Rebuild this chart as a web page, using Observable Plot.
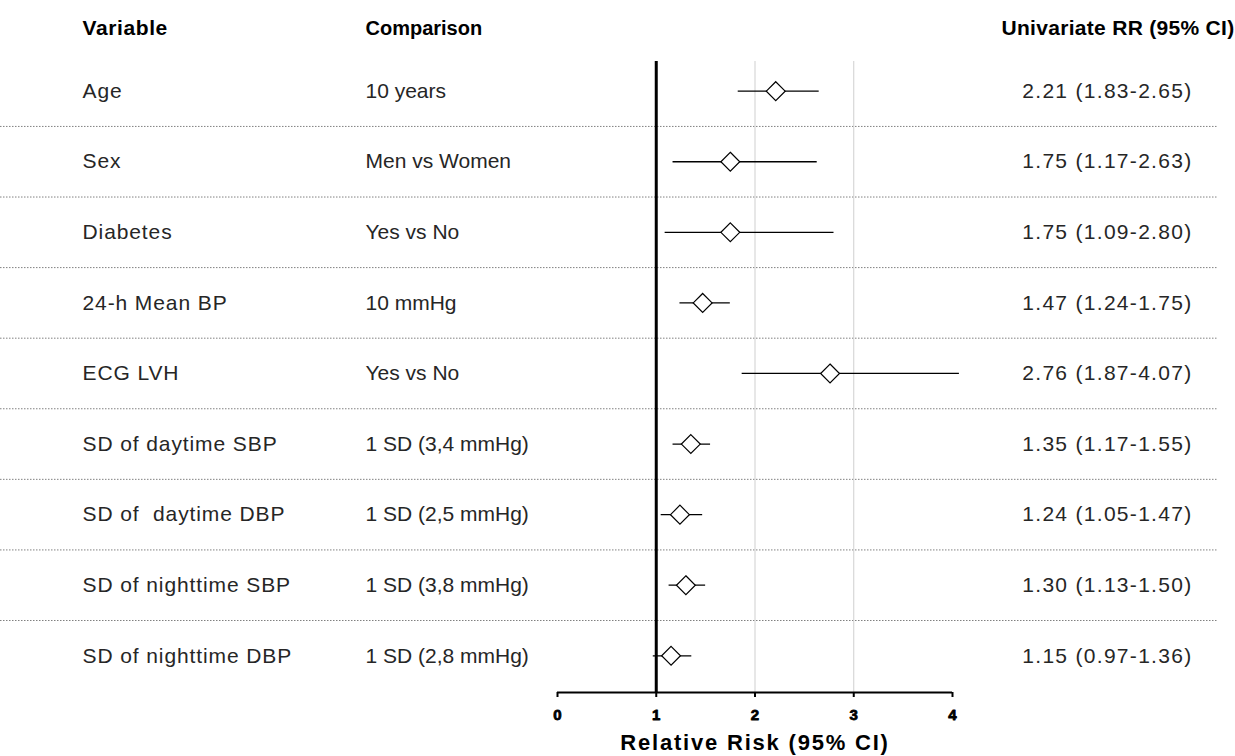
<!DOCTYPE html>
<html>
<head>
<meta charset="utf-8">
<script src="https://cdn.jsdelivr.net/npm/d3@7"></script>
<script src="https://cdn.jsdelivr.net/npm/@observablehq/plot@0.6"></script>
<style>
  html, body { margin: 0; padding: 0; background: white; }
  svg text { white-space: pre; }
</style>
</head>
<body>
<div id="chart"></div>
<script>
const variables = ["Age", "Sex", "Diabetes", "24-h Mean BP", "ECG LVH", "SD of daytime SBP", "SD of  daytime DBP", "SD of nighttime SBP", "SD of nighttime DBP"];
const comparisons = ["10 years", "Men vs Women", "Yes vs No", "10 mmHg", "Yes vs No", "1 SD (3,4 mmHg)", "1 SD (2,5 mmHg)", "1 SD (3,8 mmHg)", "1 SD (2,8 mmHg)"];
const rrValues = [2.21, 1.75, 1.75, 1.47, 2.76, 1.35, 1.24, 1.30, 1.15];
const ciLow = [1.83, 1.17, 1.09, 1.24, 1.87, 1.17, 1.05, 1.13, 0.97];
const ciHigh = [2.65, 2.63, 2.80, 1.75, 4.07, 1.55, 1.47, 1.50, 1.36];
const xTicks = [0, 1, 2, 3, 4];
const headers = ["Variable", "Comparison", "Univariate RR (95% CI)"];
const xTitle = "Relative Risk (95% CI)";

const rows = variables.map((v, i) => ({
  row: i,
  variable: v,
  comparison: comparisons[i],
  rr: rrValues[i],
  lo: ciLow[i],
  hi: ciHigh[i],
  label: `${rrValues[i].toFixed(2)} (${ciLow[i].toFixed(2)}-${ciHigh[i].toFixed(2)})`
}));

const yDomain = [-0.42, 8.52];
const font = "'Liberation Sans', Arial, sans-serif";

const chart = Plot.plot({
  width: 1235,
  height: 756,
  marginLeft: 0,
  marginRight: 18,
  marginTop: 61,
  marginBottom: 64,
  x: {domain: [0, 4], range: [557, 952], axis: null},
  y: {domain: yDomain, range: [61, 692], axis: null},
  style: {fontFamily: font, background: "white", overflow: "visible"},
  marks: [
    Plot.ruleY(rows.slice(0, -1), {y: d => d.row + 0.5, stroke: "#808080", strokeWidth: 1, strokeDasharray: "1.5,1.5"}),
    Plot.ruleX([2, 3], {stroke: "#cfcfcf", strokeWidth: 1}),
    Plot.ruleX([1], {stroke: "black", strokeWidth: 3}),
    Plot.ruleY([yDomain[1]], {x1: 0, x2: 4, stroke: "black", strokeWidth: 2}),
    Plot.axisX(xTicks, {anchor: "bottom", tickSize: 5, tickFormat: () => "", stroke: "black", strokeWidth: 2, label: null}),
    Plot.text(xTicks, {x: d => d, frameAnchor: "bottom", dy: 27, text: d => String(d), fontSize: 15, fontWeight: "bold", fill: "black", stroke: "black", strokeWidth: 0.8}),
    Plot.text([xTitle], {x: () => 2, frameAnchor: "bottom", dy: 57, text: d => d, fontSize: 22, fontWeight: "bold", fill: "black"}),
    Plot.ruleY(rows, {y: "row", x1: "lo", x2: "hi", stroke: "black", strokeWidth: 1.3}),
    Plot.dot(rows, {x: "rr", y: "row", symbol: "diamond2", r: 8.5, fill: "white", stroke: "black", strokeWidth: 1.2}),
    Plot.text(rows, {y: "row", text: "variable", frameAnchor: "left", dx: 82, textAnchor: "start", fontSize: 21, fill: "#262626"}),
    Plot.text(rows, {y: "row", text: "comparison", frameAnchor: "left", dx: 365, textAnchor: "start", fontSize: 21, fill: "#262626"}),
    Plot.text(rows, {y: "row", text: "label", frameAnchor: "right", dx: -25, textAnchor: "end", fontSize: 21, fill: "#262626"}),
    Plot.text([headers[0]], {frameAnchor: "top-left", dx: 82, dy: -33, lineAnchor: "middle", text: d => d, textAnchor: "start", fontSize: 21, fontWeight: "bold", fill: "black"}),
    Plot.text([headers[1]], {frameAnchor: "top-left", dx: 365, dy: -33, lineAnchor: "middle", text: d => d, textAnchor: "start", fontSize: 20, fontWeight: "bold", fill: "black"}),
    Plot.text([headers[2]], {frameAnchor: "top-right", dx: 17, dy: -33, lineAnchor: "middle", text: d => d, textAnchor: "end", fontSize: 21, fontWeight: "bold", fill: "black"})
  ]
});

// letter spacing tweaks per text mark (in mark order)
const spacing = ["0px", "1.8px", "0.9px", "0px", "1.3px", "0.6px", "0px", "0.3px"];
d3.select(chart).selectAll('g[aria-label="text"]').each(function(_, i) {
  if (spacing[i] && spacing[i] !== "0px") d3.select(this).style("letter-spacing", spacing[i]);
});

document.getElementById("chart").appendChild(chart);
</script>
</body>
</html>
